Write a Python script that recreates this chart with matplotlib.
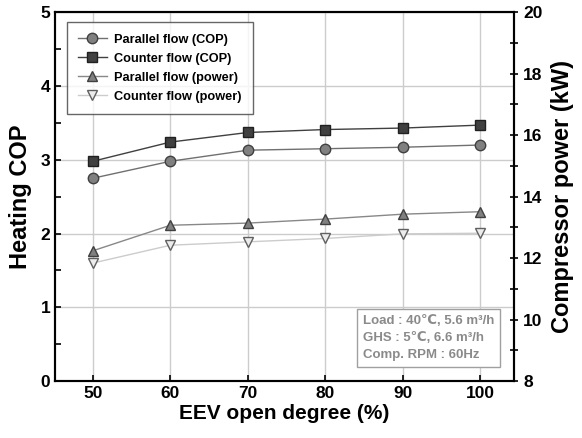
import matplotlib.pyplot as plt

plt.rcParams['font.family'] = ['Liberation Sans', 'DejaVu Sans']
plt.rcParams['font.weight'] = 'bold'

# Data.
eev_open = [50, 60, 70, 80, 90, 100]
cop_parallel = [2.75, 2.98, 3.13, 3.15, 3.17, 3.20]
cop_counter = [2.98, 3.24, 3.37, 3.41, 3.43, 3.47]
power_parallel = [12.24, 13.07, 13.14, 13.27, 13.43, 13.51]
power_counter = [11.84, 12.42, 12.53, 12.64, 12.79, 12.81]

fig = plt.figure(figsize=(5.82, 4.38), dpi=100)
ax = fig.add_axes([0.0945, 0.130, 0.789, 0.842])
ax2 = ax.twinx()

ax.grid(True, color='#cccccc', linewidth=1)
ax.set_axisbelow(True)

h1, = ax.plot(eev_open, cop_parallel, color='#707070', linewidth=1,
              marker='o', markersize=7.5, markerfacecolor='#808080',
              markeredgecolor='#404040', label='Parallel flow (COP)')
h2, = ax.plot(eev_open, cop_counter, color='#404040', linewidth=1,
              marker='s', markersize=6.5, markerfacecolor='#404040',
              markeredgecolor='#202020', label='Counter flow (COP)')
h3, = ax2.plot(eev_open, power_parallel, color='#888888', linewidth=1,
               marker='^', markersize=7.5, markerfacecolor='#808080',
               markeredgecolor='#404040', label='Parallel flow (power)')
h4, = ax2.plot(eev_open, power_counter, color='#cccccc', linewidth=1,
               marker='v', markersize=7.5, markerfacecolor='#ececec',
               markeredgecolor='#606060', label='Counter flow (power)')

ax.set_xlim(45.1, 104.4)
ax.set_ylim(0, 5)
ax2.set_ylim(8, 20)
ax.set_xticks(eev_open)
ax.set_yticks([0, 1, 2, 3, 4, 5])
ax.set_yticks([0.5, 1.5, 2.5, 3.5, 4.5], minor=True)
ax2.set_yticks([8, 10, 12, 14, 16, 18, 20])
ax2.set_yticks([9, 11, 13, 15, 17, 19], minor=True)

for a in (ax, ax2):
    for s in a.spines.values():
        s.set_linewidth(1.5)
ax.tick_params(which='both', direction='in', labelsize=12.5, width=1.2,
               length=4, top=False)
ax.tick_params(axis='y', which='both', right=False)
ax2.tick_params(which='both', direction='inout', labelsize=12.5,
                width=1.2, length=6)

ax.set_xlabel('EEV open degree (%)', fontsize=15, fontweight='bold',
              labelpad=2)
ax.set_ylabel('Heating COP', fontsize=17, fontweight='bold', labelpad=6)
ax2.set_ylabel('Compressor power (kW)', fontsize=17, fontweight='bold',
               labelpad=6)

leg = ax2.legend(handles=[h1, h2, h3, h4], loc='upper left',
                 bbox_to_anchor=(0.026, 0.973), borderaxespad=0,
                 fontsize=9.2, frameon=True, fancybox=False,
                 handlelength=2.2, borderpad=0.9, labelspacing=0.55,
                 handletextpad=0.6)
leg.get_frame().set_edgecolor('#404040')
leg.get_frame().set_linewidth(1)
for t in leg.get_texts():
    t.set_fontweight('bold')

ax2.text(0.956, 0.055,
         'Load : 40\u2103, 5.6 m\u00b3/h\nGHS : 5\u2103, 6.6 m\u00b3/h\nComp. RPM : 60Hz',
         transform=ax.transAxes, ha='right', va='bottom', fontsize=9.5,
         multialignment='left', fontweight='bold', color='#8a8a8a',
         linespacing=1.55,
         bbox=dict(boxstyle='square,pad=0.45', facecolor='white',
                   edgecolor='#a0a0a0', linewidth=1))

fig.savefig('out.png', dpi=100)
